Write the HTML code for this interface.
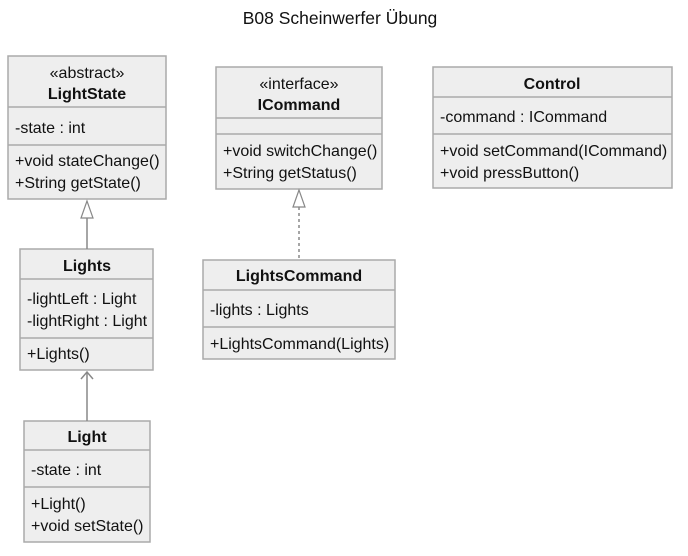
<!DOCTYPE html>
<html><head><meta charset="utf-8"><style>
html,body{margin:0;padding:0;background:#fff;}
svg{display:block;font-family:"Liberation Sans",Arial,sans-serif;}
text{font-size:16px;fill:#111;}
.b{font-weight:bold;}
rect{fill:#eeeeee;stroke:#aaaaaa;stroke-width:1.5;}
.d{stroke:#aaaaaa;stroke-width:1.5;}
</style></head><body>
<svg width="688" height="556" viewBox="0 0 688 556">
<text x="340" y="24" text-anchor="middle" style="font-size:17.5px">B08 Scheinwerfer Übung</text>

<!-- LightState -->
<rect x="8" y="56" width="158" height="143"/>
<line class="d" x1="8" y1="107" x2="166" y2="107"/>
<line class="d" x1="8" y1="145" x2="166" y2="145"/>
<text x="87" y="78" text-anchor="middle">«abstract»</text>
<text x="87" y="99" text-anchor="middle" class="b">LightState</text>
<text x="15" y="133">-state : int</text>
<text x="15" y="166">+void stateChange()</text>
<text x="15" y="188">+String getState()</text>

<!-- Lights -->
<rect x="20" y="249" width="133" height="121"/>
<line class="d" x1="20" y1="279" x2="153" y2="279"/>
<line class="d" x1="20" y1="338" x2="153" y2="338"/>
<text x="87" y="271" text-anchor="middle" class="b">Lights</text>
<text x="27" y="304">-lightLeft : Light</text>
<text x="27" y="326">-lightRight : Light</text>
<text x="27" y="359">+Lights()</text>

<!-- Light -->
<rect x="24" y="421" width="126" height="121"/>
<line class="d" x1="24" y1="450" x2="150" y2="450"/>
<line class="d" x1="24" y1="487" x2="150" y2="487"/>
<text x="87" y="442" text-anchor="middle" class="b">Light</text>
<text x="31" y="475">-state : int</text>
<text x="31" y="509">+Light()</text>
<text x="31" y="531">+void setState()</text>

<!-- ICommand -->
<rect x="216" y="67" width="166" height="122"/>
<line class="d" x1="216" y1="118" x2="382" y2="118"/>
<line class="d" x1="216" y1="134" x2="382" y2="134"/>
<text x="299" y="89" text-anchor="middle">«interface»</text>
<text x="299" y="110" text-anchor="middle" class="b">ICommand</text>
<text x="223" y="156">+void switchChange()</text>
<text x="223" y="178">+String getStatus()</text>

<!-- Control -->
<rect x="433" y="67" width="239" height="121"/>
<line class="d" x1="433" y1="97" x2="672" y2="97"/>
<line class="d" x1="433" y1="134" x2="672" y2="134"/>
<text x="552" y="89" text-anchor="middle" class="b">Control</text>
<text x="440" y="122">-command : ICommand</text>
<text x="440" y="156">+void setCommand(ICommand)</text>
<text x="440" y="178">+void pressButton()</text>

<!-- LightsCommand -->
<rect x="203" y="260" width="192" height="99"/>
<line class="d" x1="203" y1="290" x2="395" y2="290"/>
<line class="d" x1="203" y1="327" x2="395" y2="327"/>
<text x="299" y="281" text-anchor="middle" class="b">LightsCommand</text>
<text x="210" y="315">-lights : Lights</text>
<text x="210" y="349">+LightsCommand(Lights)</text>

<!-- connectors -->
<line x1="87" y1="218" x2="87" y2="249" stroke="#888" stroke-width="1.5"/>
<polygon points="87,201 81,218 93,218" fill="#fff" stroke="#888" stroke-width="1.2"/>

<line x1="87" y1="372" x2="87" y2="421" stroke="#888" stroke-width="1.5"/>
<polyline points="81,379 87,372 93,379" fill="none" stroke="#888" stroke-width="1.5"/>

<line x1="299" y1="207" x2="299" y2="258" stroke="#888" stroke-width="1.5" stroke-dasharray="3,3"/>
<polygon points="299,190 293,207 305,207" fill="#fff" stroke="#888" stroke-width="1.2"/>
</svg>
</body></html>
